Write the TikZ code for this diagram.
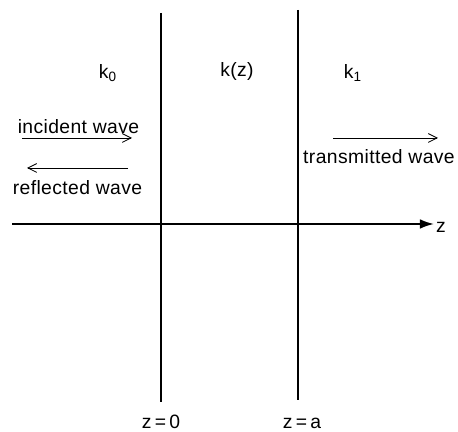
\documentclass[tikz,border=0pt]{standalone}
\usepackage{fontspec}
\setmainfont{Liberation Sans}[LetterSpace=2]
\usetikzlibrary{arrows.meta, positioning}

\begin{document}
\begin{tikzpicture}[
   wall/.style={line width=1.1pt},
   axis/.style={line width=1.1pt, -{Latex[length=8pt, width=5.5pt]}},
   wave/.style={line width=0.5pt, -{Straight Barb[length=5pt, width=5pt]}},
   lbl/.style={font=\fontsize{11}{13}\selectfont, inner sep=1pt},
   zlbl/.style={lbl, text height=1.6ex, text depth=0.3ex}
]
   \useasboundingbox (0,0) rectangle (9.16,8.64);
   % Interfaces z=0 and z=a
   \coordinate (top0) at (3.22,8.38);
   \coordinate (bot0) at (3.22,0.60);
   \coordinate (topa) at (5.96,8.44);
   \coordinate (bota) at (5.96,0.64);
   \draw[wall] (top0) -- (bot0);
   \draw[wall] (topa) -- (bota);
   \node[zlbl, below=0.2cm of bot0] (zzero) {z\,=\,0};
   \node[zlbl, below=0.24cm of bota, xshift=0.08cm] (za) {z\,=\,a};
   % z axis
   \coordinate (zstart) at (0.24,4.16);
   \node[lbl, anchor=west] (zlab) at (8.68,4.10) {z};
   \draw[axis] (zstart) -- (zstart -| zlab.west);
   % Wave numbers of the three regions
   \node[lbl] (kzero) at (2.16,7.18) {k\textsubscript{0}};
   \node[lbl] (kz) at (4.74,7.20) {k(z)};
   \node[lbl] (kone) at (7.06,7.18) {k\textsubscript{1}};
   % Incident and reflected waves
   \node[lbl] (inc) at (1.57,6.10) {incident wave};
   \coordinate (incA) at (0.44,5.88);
   \coordinate (incB) at (2.64,5.88);
   \draw[wave] (incA) -- (incB);
   \coordinate (refA) at (2.56,5.28);
   \coordinate (refB) at (0.54,5.28);
   \draw[wave] (refA) -- (refB);
   \node[lbl] (ref) at (1.55,4.88) {reflected wave};
   % Transmitted wave
   \coordinate (trA) at (6.66,5.88);
   \coordinate (trB) at (8.76,5.88);
   \draw[wave] (trA) -- (trB);
   \node[lbl] (tr) at (7.58,5.50) {transmitted wave};
\end{tikzpicture}
\end{document}
